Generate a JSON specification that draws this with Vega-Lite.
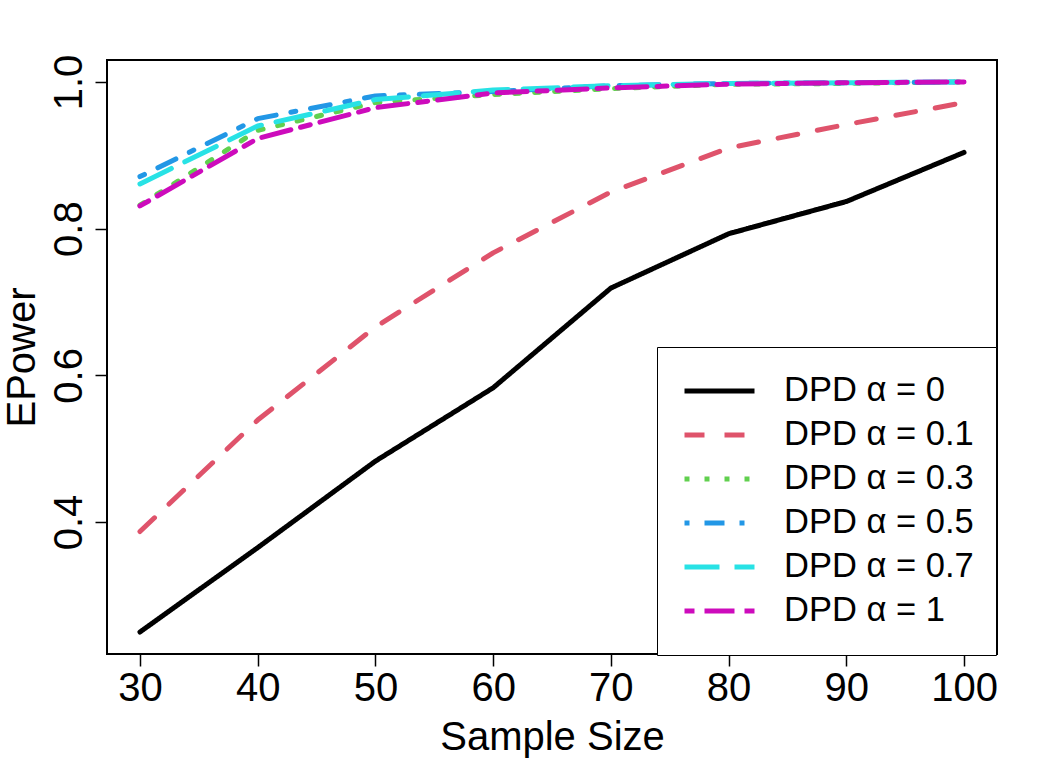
{
  "$schema": "https://vega.github.io/schema/vega-lite/v6.json",
  "width": 890,
  "height": 594,
  "autosize": {"type": "none"},
  "padding": {"left": 107, "top": 60, "right": 60, "bottom": 109},
  "background": "white",
  "config": {
    "view": {"stroke": "black", "strokeWidth": 2},
    "font": "Liberation Sans",
    "axis": {
      "grid": false, "domain": false,
      "tickColor": "black", "tickWidth": 1.5, "tickSize": 12,
      "labelColor": "black", "titleColor": "black",
      "labelFont": "Liberation Sans", "titleFont": "Liberation Sans",
      "labelFontSize": 40, "titleFontSize": 40, "titleFontWeight": "normal"
    }
  },
  "data": {"values": [
    {"n": 30, "method": "DPD α = 0", "power": 0.250},
    {"n": 40, "method": "DPD α = 0", "power": 0.365},
    {"n": 50, "method": "DPD α = 0", "power": 0.483},
    {"n": 60, "method": "DPD α = 0", "power": 0.583},
    {"n": 70, "method": "DPD α = 0", "power": 0.719},
    {"n": 80, "method": "DPD α = 0", "power": 0.793},
    {"n": 90, "method": "DPD α = 0", "power": 0.837},
    {"n": 100, "method": "DPD α = 0", "power": 0.904},
    {"n": 30, "method": "DPD α = 0.1", "power": 0.387},
    {"n": 40, "method": "DPD α = 0.1", "power": 0.539},
    {"n": 50, "method": "DPD α = 0.1", "power": 0.666},
    {"n": 60, "method": "DPD α = 0.1", "power": 0.767},
    {"n": 70, "method": "DPD α = 0.1", "power": 0.850},
    {"n": 80, "method": "DPD α = 0.1", "power": 0.910},
    {"n": 90, "method": "DPD α = 0.1", "power": 0.942},
    {"n": 100, "method": "DPD α = 0.1", "power": 0.972},
    {"n": 30, "method": "DPD α = 0.3", "power": 0.832},
    {"n": 40, "method": "DPD α = 0.3", "power": 0.934},
    {"n": 50, "method": "DPD α = 0.3", "power": 0.972},
    {"n": 60, "method": "DPD α = 0.3", "power": 0.983},
    {"n": 70, "method": "DPD α = 0.3", "power": 0.991},
    {"n": 80, "method": "DPD α = 0.3", "power": 0.997},
    {"n": 90, "method": "DPD α = 0.3", "power": 0.998},
    {"n": 100, "method": "DPD α = 0.3", "power": 1.0},
    {"n": 30, "method": "DPD α = 0.5", "power": 0.871},
    {"n": 40, "method": "DPD α = 0.5", "power": 0.950},
    {"n": 50, "method": "DPD α = 0.5", "power": 0.981},
    {"n": 60, "method": "DPD α = 0.5", "power": 0.987},
    {"n": 70, "method": "DPD α = 0.5", "power": 0.995},
    {"n": 80, "method": "DPD α = 0.5", "power": 0.998},
    {"n": 90, "method": "DPD α = 0.5", "power": 0.999},
    {"n": 100, "method": "DPD α = 0.5", "power": 1.0},
    {"n": 30, "method": "DPD α = 0.7", "power": 0.861},
    {"n": 40, "method": "DPD α = 0.7", "power": 0.940},
    {"n": 50, "method": "DPD α = 0.7", "power": 0.976},
    {"n": 60, "method": "DPD α = 0.7", "power": 0.989},
    {"n": 70, "method": "DPD α = 0.7", "power": 0.995},
    {"n": 80, "method": "DPD α = 0.7", "power": 0.998},
    {"n": 90, "method": "DPD α = 0.7", "power": 0.999},
    {"n": 100, "method": "DPD α = 0.7", "power": 1.0},
    {"n": 30, "method": "DPD α = 1", "power": 0.831},
    {"n": 40, "method": "DPD α = 1", "power": 0.923},
    {"n": 50, "method": "DPD α = 1", "power": 0.965},
    {"n": 60, "method": "DPD α = 1", "power": 0.985},
    {"n": 70, "method": "DPD α = 1", "power": 0.992},
    {"n": 80, "method": "DPD α = 1", "power": 0.997},
    {"n": 90, "method": "DPD α = 1", "power": 0.999},
    {"n": 100, "method": "DPD α = 1", "power": 1.0}
  ]},
  "mark": {"type": "line", "strokeWidth": 5, "strokeCap": "round", "strokeJoin": "round"},
  "encoding": {
    "x": {
      "field": "n", "type": "quantitative",
      "scale": {"domain": [27.2, 102.8], "nice": false, "zero": false},
      "axis": {
        "values": [30, 40, 50, 60, 70, 80, 90, 100],
        "title": "Sample Size", "labelPadding": 2, "labelFlush": false, "labelOverlap": false,
        "titleX": 445, "titleY": 95, "titleBaseline": "alphabetic", "titleAlign": "center"
      }
    },
    "y": {
      "field": "power", "type": "quantitative",
      "scale": {"domain": [0.22, 1.03], "nice": false, "zero": false},
      "axis": {
        "values": [0.4, 0.6, 0.8, 1.0], "format": ".1f",
        "title": "EPower", "labelAngle": -90, "labelAlign": "center", "labelBaseline": "alphabetic",
        "labelPadding": 14, "labelFlush": false, "labelOverlap": false,
        "titleX": -73, "titleY": 297, "titleBaseline": "alphabetic", "titleAlign": "center", "titleAngle": -90
      }
    },
    "color": {
      "field": "method", "type": "nominal",
      "scale": {
        "domain": ["DPD α = 0", "DPD α = 0.1", "DPD α = 0.3", "DPD α = 0.5", "DPD α = 0.7", "DPD α = 1"],
        "range": ["#000000", "#DF536B", "#61D04F", "#2297E6", "#28E2E5", "#CD0BBC"]
      },
      "legend": {
        "title": null, "orient": "none", "legendX": 550, "legendY": 287,
        "fillColor": "white", "strokeColor": "black", "padding": 22,
        "labelFontSize": 34.5, "labelFont": "Liberation Sans", "labelColor": "black", "labelLimit": 400,
        "symbolType": "stroke", "symbolSize": 4900, "symbolStrokeWidth": 5, "symbolOffset": 3,
        "clipHeight": 44, "rowPadding": 0, "labelOffset": 27
      }
    },
    "strokeDash": {
      "field": "method", "type": "nominal",
      "scale": {
        "domain": ["DPD α = 0", "DPD α = 0.1", "DPD α = 0.3", "DPD α = 0.5", "DPD α = 0.7", "DPD α = 1"],
        "range": [[1, 0], [20, 20], [5, 15], [5, 15, 20, 15], [35, 15], [10, 10, 30, 10]]
      },
      "legend": {
        "title": null, "orient": "none", "legendX": 550, "legendY": 287,
        "fillColor": "white", "strokeColor": "black", "padding": 22,
        "labelFontSize": 34.5, "labelFont": "Liberation Sans", "labelColor": "black", "labelLimit": 400,
        "symbolType": "stroke", "symbolSize": 4900, "symbolStrokeWidth": 5, "symbolOffset": 3,
        "clipHeight": 44, "rowPadding": 0, "labelOffset": 27
      }
    }
  }
}
